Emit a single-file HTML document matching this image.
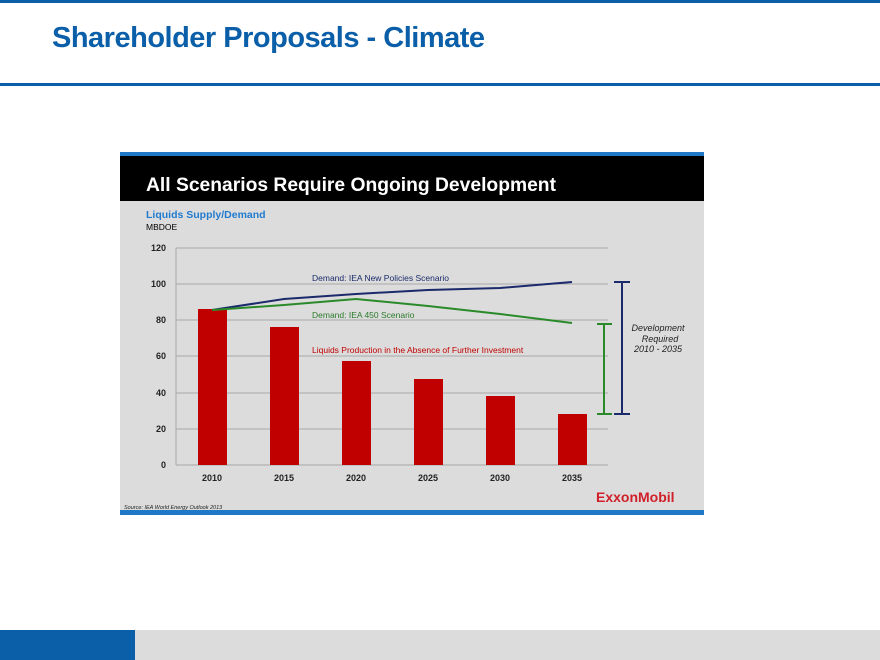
<!DOCTYPE html>
<html><head><style>
body{margin:0;width:880px;height:660px;background:#fff;position:relative;overflow:hidden;font-family:"Liberation Sans",sans-serif}
.t{position:absolute;left:52px;top:22px;font-size:29px;font-weight:bold;color:#0b5fa8;letter-spacing:-0.5px}
</style></head><body>
<div style="position:absolute;left:0;top:0;width:880px;height:3px;background:#0b5fa8"></div>
<div class="t">Shareholder Proposals - Climate</div>
<div style="position:absolute;left:0;top:83px;width:880px;height:3px;background:#0b5fa8"></div>
<div style="position:absolute;left:0;top:630px;width:880px;height:30px;background:#dcdcdc"></div>
<div style="position:absolute;left:0;top:630px;width:135px;height:30px;background:#0b5fa8"></div>
<svg style="position:absolute;left:0;top:0" width="880" height="660">
<rect x="120" y="152" width="584" height="363" fill="#dcdcdc"/>
<rect x="120" y="152" width="584" height="4" fill="#1f78c8"/>
<rect x="120" y="156" width="584" height="45" fill="#000"/>
<rect x="120" y="510" width="584" height="5" fill="#1f78c8"/>
<text x="146" y="191" font-size="19.5" font-weight="bold" fill="#fff" textLength="410" lengthAdjust="spacingAndGlyphs">All Scenarios Require Ongoing Development</text>
<text x="146" y="218" font-size="10.5" font-weight="bold" fill="#1f7ad0">Liquids Supply/Demand</text>
<text x="146" y="230" font-size="8.5" fill="#000">MBDOE</text>
<g stroke="#a8a8a8" stroke-width="1">
<line x1="176" y1="248" x2="608" y2="248"/><line x1="176" y1="284" x2="608" y2="284"/>
<line x1="176" y1="320" x2="608" y2="320"/><line x1="176" y1="356" x2="608" y2="356"/>
<line x1="176" y1="393" x2="608" y2="393"/><line x1="176" y1="429" x2="608" y2="429"/>
<line x1="176" y1="465" x2="608" y2="465"/><line x1="176" y1="248" x2="176" y2="465"/>
</g>
<g font-size="9" font-weight="bold" fill="#222" text-anchor="end">
<text x="166" y="251">120</text><text x="166" y="287">100</text><text x="166" y="323">80</text>
<text x="166" y="359">60</text><text x="166" y="396">40</text><text x="166" y="432">20</text><text x="166" y="468">0</text>
</g>
<g fill="#c00000">
<rect x="198" y="309" width="29" height="156"/><rect x="270" y="327" width="29" height="138"/>
<rect x="342" y="361" width="29" height="104"/><rect x="414" y="379" width="29" height="86"/>
<rect x="486" y="396" width="29" height="69"/><rect x="558" y="414" width="29" height="51"/>
</g>
<g font-size="9" font-weight="bold" fill="#222" text-anchor="middle">
<text x="212" y="481">2010</text><text x="284" y="481">2015</text><text x="356" y="481">2020</text>
<text x="428" y="481">2025</text><text x="500" y="481">2030</text><text x="572" y="481">2035</text>
</g>
<polyline points="212,310 284,299 356,294 428,290 500,288 572,282" fill="none" stroke="#1a2a6a" stroke-width="2"/>
<polyline points="212,310 284,305 356,299 428,306 500,314 572,323" fill="none" stroke="#2a8a2a" stroke-width="2"/>
<text x="312" y="281" font-size="8.5" fill="#1a2a6a">Demand: IEA New Policies Scenario</text>
<text x="312" y="318" font-size="8.5" fill="#2a7a2a">Demand: IEA 450 Scenario</text>
<text x="312" y="353" font-size="8.5" fill="#c00000">Liquids Production in the Absence of Further Investment</text>
<g stroke="#1a2a6a" stroke-width="2"><line x1="622" y1="282" x2="622" y2="414"/><line x1="614" y1="282" x2="630" y2="282"/><line x1="614" y1="414" x2="630" y2="414"/></g>
<g stroke="#2a8a2a" stroke-width="2"><line x1="604" y1="324" x2="604" y2="414"/><line x1="597" y1="324" x2="612" y2="324"/><line x1="597" y1="414" x2="612" y2="414"/></g>
<g font-size="9" font-style="italic" fill="#222" text-anchor="middle">
<text x="658" y="331">Development</text><text x="660" y="342">Required</text><text x="658" y="352">2010 - 2035</text>
</g>
<text x="596" y="502" font-size="14" font-weight="bold" fill="#d0202a">ExxonMobil</text>
<text x="124" y="509" font-size="5.5" font-style="italic" fill="#222">Source: IEA World Energy Outlook 2013</text>
</svg>
</body></html>
